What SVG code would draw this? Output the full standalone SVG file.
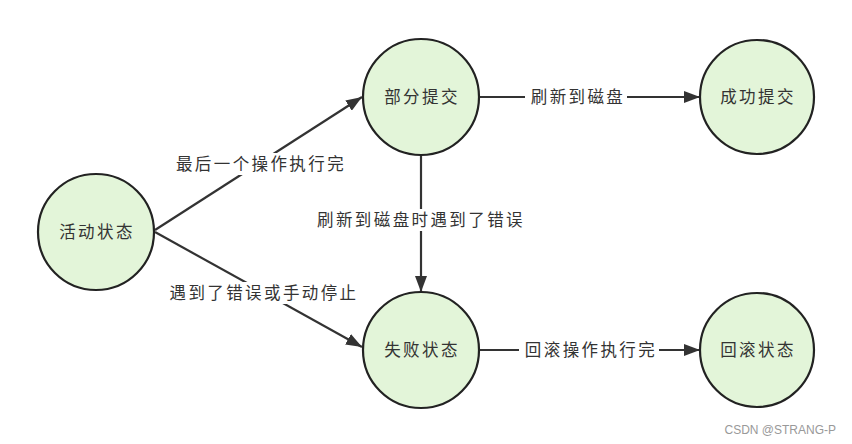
<svg xmlns="http://www.w3.org/2000/svg" width="852" height="444" viewBox="0 0 852 444">
<style>
.node circle{fill:#e3f5d9;stroke:#222;stroke-width:2.2}
text{font-family:"Noto Sans CJK SC","Noto Sans",sans-serif;font-size:16.5px;fill:#333;letter-spacing:2.4px}
.lbl{fill:#fff}
.edge{stroke:#333;stroke-width:2.2;fill:none}
.wm{font-family:"Liberation Sans",Arial,sans-serif;font-size:12px;fill:#999;letter-spacing:0}
</style>
<defs>
<marker id="arr" viewBox="0 0 16 12" refX="16" refY="6" markerWidth="16" markerHeight="12" markerUnits="userSpaceOnUse" orient="auto">
<path d="M0,0 L16,6 L0,12 Z" fill="#333"/>
</marker>
</defs>
<rect width="852" height="444" fill="#fff"/>
<g id="connectors">
<line class="edge" x1="155" y1="230" x2="362" y2="97" marker-end="url(#arr)"/>
<line class="edge" x1="155" y1="232" x2="362" y2="347" marker-end="url(#arr)"/>
<line class="edge" x1="479" y1="97" x2="700" y2="97" marker-end="url(#arr)"/>
<line class="edge" x1="421" y1="156" x2="421" y2="292" marker-end="url(#arr)"/>
<line class="edge" x1="479" y1="350" x2="700" y2="350" marker-end="url(#arr)"/>
<rect class="lbl" x="169" y="153" width="181" height="22"/>
<text x="261" y="170" text-anchor="middle">最后一个操作执行完</text>
<rect class="lbl" x="162" y="282" width="201" height="22"/>
<text x="264" y="299" text-anchor="middle">遇到了错误或手动停止</text>
<rect class="lbl" x="525" y="86" width="102" height="22"/>
<text x="578" y="103" text-anchor="middle">刷新到磁盘</text>
<rect class="lbl" x="308" y="209" width="222" height="22"/>
<text x="421" y="226" text-anchor="middle">刷新到磁盘时遇到了错误</text>
<rect class="lbl" x="519" y="339" width="140" height="22"/>
<text x="591" y="356" text-anchor="middle">回滚操作执行完</text>
</g>
<g id="node-active" class="node"><circle cx="96" cy="232" r="58"/><text x="97" y="238" text-anchor="middle">活动状态</text></g>
<g id="node-partial" class="node"><circle cx="421" cy="97" r="58"/><text x="422" y="103" text-anchor="middle">部分提交</text></g>
<g id="node-success" class="node"><circle cx="757" cy="97" r="57"/><text x="758" y="103" text-anchor="middle">成功提交</text></g>
<g id="node-failed" class="node"><circle cx="421" cy="350" r="58"/><text x="422" y="356" text-anchor="middle">失败状态</text></g>
<g id="node-rollback" class="node"><circle cx="757" cy="350" r="57"/><text x="758" y="356" text-anchor="middle">回滚状态</text></g>
<text class="wm" x="836" y="434" text-anchor="end">CSDN @STRANG-P</text>
</svg>
